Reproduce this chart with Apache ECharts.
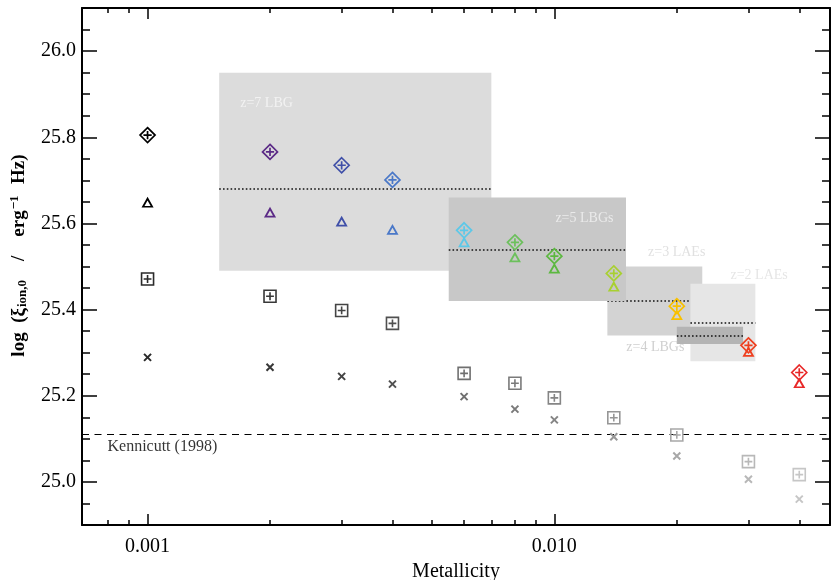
<!DOCTYPE html>
<html>
<head>
<meta charset="utf-8">
<script src="https://cdn.jsdelivr.net/npm/echarts@6/dist/echarts.min.js"></script>
<style>
html,body{margin:0;padding:0;background:#fff;}
#chart{width:831px;height:580px;}
</style>
</head>
<body>
<div id="chart"></div>
<script>
// ---- data ----
const metallicity = [0.001, 0.002, 0.003, 0.004, 0.006, 0.008, 0.010, 0.014, 0.020, 0.030, 0.040];
const xiDiamond  = [25.805, 25.766, 25.735, 25.701, 25.584, 25.556, 25.524, 25.484, 25.408, 25.317, 25.254];
const xiTriangle = [25.648, 25.625, 25.604, 25.585, 25.556, 25.521, 25.495, 25.453, 25.387, 25.302, 25.229];
const xiSquare   = [25.471, 25.431, 25.398, 25.368, 25.252, 25.229, 25.195, 25.149, 25.109, 25.047, 25.017];
const xiCross    = [25.289, 25.266, 25.245, 25.227, 25.198, 25.169, 25.144, 25.105, 25.060, 25.006, 24.960];
const kennicuttXi = 25.11;
const kennicuttLabel = 'Kennicutt (1998)';

// observational boxes (drawing order)
const boxNames = ['z=7 LBG', 'z=3 LAEs', 'z=2 LAEs', 'z=5 LBGs', 'z=4 LBGs'];
const boxZLo   = [0.0015, 0.0135, 0.0216, 0.0055, 0.0200];
const boxZHi   = [0.0070, 0.0231, 0.0312, 0.0150, 0.0291];
const boxXiLo  = [25.49, 25.34, 25.28, 25.42, 25.32];
const boxXiHi  = [25.95, 25.50, 25.46, 25.66, 25.36];
const boxXiMid = [25.68, 25.42, 25.37, 25.54, 25.34];
const boxLineZHi = [0.0070, 0.0216, 0.0312, 0.0150, 0.0291];
// label anchor (left-middle of text) in data coords
const boxLabelZ  = [0.00169, 0.0170, 0.0271, 0.01006, 0.01503];
const boxLabelXi = [25.879, 25.532, 25.479, 25.611, 25.313];
const kennicuttLabelZ = 0.000797, kennicuttLabelXi = 25.081;

// tick values
const xMajorTicks = [0.001, 0.01];
const xMinorTicks = [0.0008, 0.0009, 0.002, 0.003, 0.004, 0.005, 0.006, 0.007, 0.008, 0.009, 0.02, 0.03, 0.04];
const yMajorTicks = [25.0, 25.2, 25.4, 25.6, 25.8, 26.0];
const yMinorTicks = [24.95, 25.05, 25.1, 25.15, 25.25, 25.3, 25.35, 25.45, 25.5, 25.55, 25.65, 25.7, 25.75, 25.85, 25.9, 25.95, 26.05];

// ---- styles ----
const modelColors = ['#000000', '#5b2a86', '#3f4fa8', '#4a78c8', '#5cc8e8', '#6cc05c', '#5cb840', '#a8d030', '#f8c000', '#ee4020', '#e82828'];
const grayColors  = ['#2a2a2a', '#383838', '#444444', '#505050', '#707070', '#7a7a7a', '#858585', '#969696', '#a8a8a8', '#b8b8b8', '#c6c6c6'];
const boxColors = ['#dcdcdc', '#d3d3d3', '#e6e6e6', '#c8c8c8', '#b4b4b4'];
const boxLabelColors = ['#f8f8f8', '#d8d8d8', '#dedede', '#f2f2f2', '#c4c4c4'];

const SERIF = "'Liberation Serif','Times New Roman',serif";
const xMin = 0.00069, xMax = 0.0476, yMin = 24.9, yMax = 26.1;

const diamondPath = 'path://M0,-10L10,0L0,10L-10,0Z M-5.5,0L5.5,0 M0,-5.5L0,5.5';
const squarePath  = 'path://M-10,-10L10,-10L10,10L-10,10Z M-6.5,0L6.5,0 M0,-6.5L0,6.5';
const crossPath   = 'path://M-10,-10L10,10 M-10,10L10,-10';

function xAxisDef(pos, major, withLabel) {
  return {
    type: 'log', logBase: 10, min: xMin, max: xMax, position: pos, gridIndex: 0,
    axisLine: { show: major, lineStyle: { color: '#000', width: 2 } },
    axisTick: { show: true, inside: true, length: major ? 11 : 5, customValues: major ? xMajorTicks : xMinorTicks,
                lineStyle: { color: '#000', width: 1.5 } },
    axisLabel: withLabel ? { show: true, customValues: xMajorTicks, margin: 12, color: '#000', fontFamily: SERIF, fontSize: 20,
                formatter: v => (Math.abs(v - 0.001) < 1e-9 ? '0.001' : '0.010') } : { show: false },
    splitLine: { show: false }, minorTick: { show: false }, minorSplitLine: { show: false }
  };
}
function yAxisDef(pos, major, withLabel) {
  return {
    type: 'value', min: yMin, max: yMax, position: pos, gridIndex: 0,
    axisLine: { show: major, lineStyle: { color: '#000', width: 2 } },
    axisTick: { show: true, inside: true, length: major ? 15 : 8, customValues: major ? yMajorTicks : yMinorTicks,
                lineStyle: { color: '#000', width: 1.5 } },
    axisLabel: withLabel ? { show: true, customValues: yMajorTicks, margin: 6, color: '#000', fontFamily: SERIF, fontSize: 20,
                formatter: v => v.toFixed(1) } : { show: false },
    splitLine: { show: false }
  };
}

const xAxes = [xAxisDef('bottom', true, true), xAxisDef('bottom', false, false), xAxisDef('top', true, false), xAxisDef('top', false, false)];
xAxes[0].name = 'Metallicity';
xAxes[0].nameLocation = 'middle';
xAxes[0].nameGap = 27;
xAxes[0].nameTextStyle = { fontFamily: SERIF, fontSize: 20, color: '#000' };

const yAxes = [yAxisDef('left', true, true), yAxisDef('left', false, false), yAxisDef('right', true, false), yAxisDef('right', false, false)];
yAxes[0].name = 'log\u2002(ξ{sub|ion,0}\u2002\u2002/\u2002\u2002erg{sup|−1}\u2002Hz)';
yAxes[0].nameLocation = 'middle';
yAxes[0].nameGap = 52;
yAxes[0].nameRotate = 90;
yAxes[0].nameTextStyle = {
  fontFamily: SERIF, fontSize: 19, fontWeight: 'bold', color: '#000',
  padding: [0, 0, 0, 22],
  rich: {
    sub: { fontFamily: SERIF, fontSize: 13, fontWeight: 'bold', color: '#000', padding: [8, 0, 0, 1] },
    sup: { fontFamily: SERIF, fontSize: 13, fontWeight: 'bold', color: '#000', padding: [0, 2, 9, 1] }
  }
};

const series = [];
// boxes with dotted median lines
boxNames.forEach((name, i) => {
  series.push({
    type: 'scatter', name: 'box' + i, data: [], xAxisIndex: 0, yAxisIndex: 0, silent: true,
    markArea: {
      z: 1 + 2 * i, silent: true, label: { show: false },
      data: [[{ coord: [boxZLo[i], boxXiHi[i]], itemStyle: { color: boxColors[i], opacity: 1 } },
              { coord: [boxZHi[i], boxXiLo[i]] }]]
    },
    markLine: {
      z: 2 + 2 * i, silent: true, symbol: ['none', 'none'], label: { show: false },
      lineStyle: { color: '#111', width: 1.6, type: [1.6, 2.2] },
      data: [[{ coord: [boxZLo[i], boxXiMid[i]] }, { coord: [boxLineZHi[i], boxXiMid[i]] }]]
    }
  });
});
// Kennicutt line
series.push({
  type: 'scatter', data: [], xAxisIndex: 0, yAxisIndex: 0, silent: true,
  markLine: {
    z: 12, silent: true, symbol: ['none', 'none'], label: { show: false },
    lineStyle: { color: '#000', width: 1.2, type: [7, 5.5] },
    data: [{ yAxis: kennicuttXi }]
  }
});
// text annotations
const annData = boxNames.map((name, i) => ({
  value: [boxLabelZ[i], boxLabelXi[i]],
  label: { formatter: name, color: boxLabelColors[i], fontSize: 14 }
}));
annData.push({ value: [kennicuttLabelZ, kennicuttLabelXi], label: { formatter: kennicuttLabel, color: '#000', fontSize: 16 } });
series.push({
  type: 'scatter', z: 15, silent: true, symbolSize: 0, xAxisIndex: 0, yAxisIndex: 0,
  label: { show: true, position: 'right', distance: 0, fontFamily: SERIF },
  data: annData
});
// model points
function pts(vals, colors) {
  return metallicity.map((z, i) => ({ value: [z, vals[i]], itemStyle: { borderColor: colors[i] } }));
}
series.push({
  type: 'scatter', z: 20, silent: true, symbol: crossPath, symbolSize: 7,
  itemStyle: { color: 'rgba(0,0,0,0)', borderWidth: 2, opacity: 1 },
  data: pts(xiCross, grayColors)
});
series.push({
  type: 'scatter', z: 20, silent: true, symbol: squarePath, symbolSize: 12,
  itemStyle: { color: 'rgba(0,0,0,0)', borderWidth: 1.6, opacity: 1 },
  data: pts(xiSquare, grayColors)
});
series.push({
  type: 'scatter', z: 21, silent: true, symbol: 'triangle', symbolSize: [9, 8],
  itemStyle: { color: 'rgba(0,0,0,0)', borderWidth: 1.8, opacity: 1 },
  data: pts(xiTriangle, modelColors)
});
series.push({
  type: 'scatter', z: 21, silent: true, symbol: diamondPath, symbolSize: 15,
  itemStyle: { color: 'rgba(0,0,0,0)', borderWidth: 1.7, opacity: 1 },
  data: pts(xiDiamond, modelColors)
});

const chart = echarts.init(document.getElementById('chart'), null, { renderer: 'canvas' });
chart.setOption({
  animation: false,
  backgroundColor: '#fff',
  grid: { left: 82, right: 1, top: 8, bottom: 55, containLabel: false, outerBoundsMode: 'none' },
  xAxis: xAxes,
  yAxis: yAxes,
  series: series
});
</script>
</body>
</html>
